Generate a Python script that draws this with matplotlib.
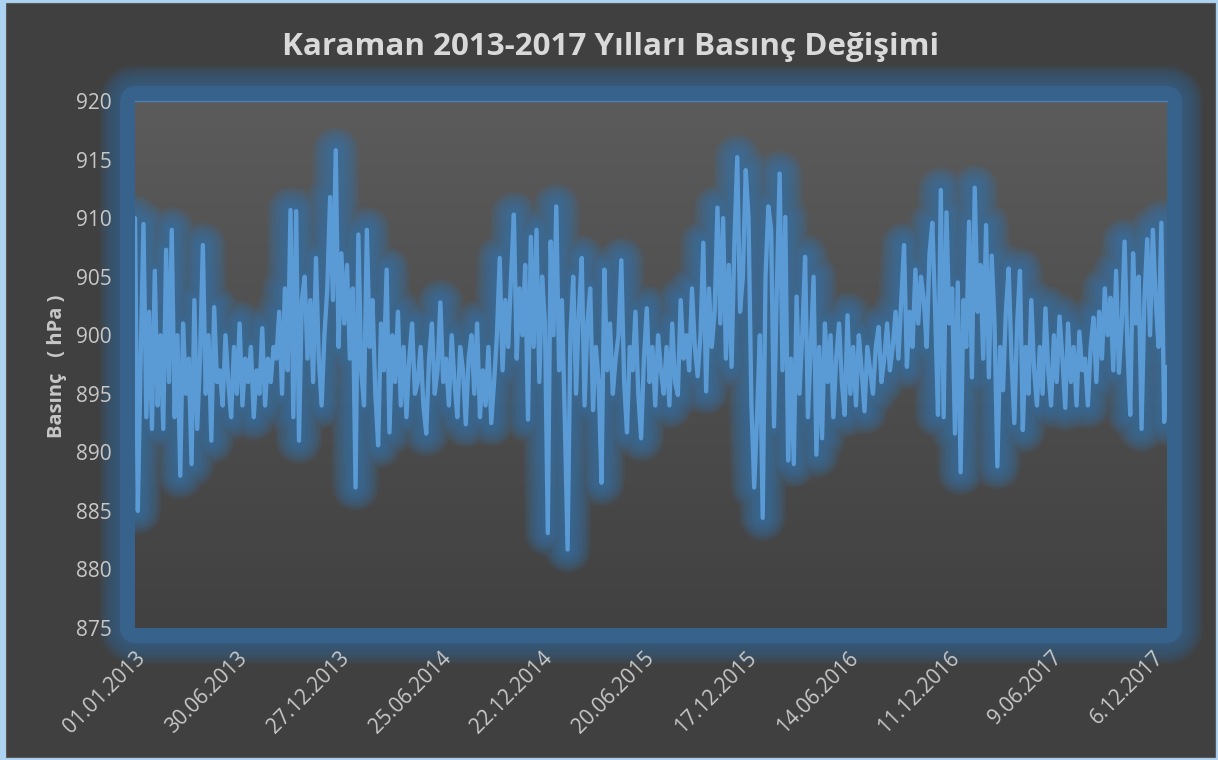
import numpy as np
import pandas as pd
import matplotlib
matplotlib.use("Agg")
import matplotlib.pyplot as plt
from matplotlib.patches import Rectangle
from matplotlib.colors import LinearSegmentedColormap
import matplotlib.dates as mdates

# ---------------- data (5-day samples) ----------------
start_date = "2013-01-01"
step_days = 5
pressure = [
    910, 885, 898, 909.5, 893, 902, 892, 905.5, 894, 900,
    892, 907.3, 896, 909, 893, 900, 888, 901, 895, 898,
    889, 903, 892, 898, 907.7, 895, 900, 891, 902.4, 896,
    897, 894, 900, 896, 893, 899, 895, 901, 894, 898,
    896, 899, 893, 897, 895, 900.6, 894, 898, 896, 899,
    898, 902, 895, 904, 897, 910.7, 893, 910.6, 891, 903,
    905, 898, 903, 896, 906.6, 898, 894, 900, 904, 911.8,
    903, 915.8, 899, 907, 901, 906, 898, 904, 887, 908.6,
    897, 894, 909, 899, 903, 895, 890.6, 901, 897, 905.6,
    891.7, 900, 896, 902, 894, 899, 893, 898, 901, 895,
    896, 899, 894, 891.6, 898, 901, 895, 897, 902.8, 896,
    898, 894, 900, 896, 893, 899, 897, 892.4, 898, 900,
    895, 901, 893, 897, 894, 899, 892.5, 896, 900, 906.6,
    897, 903, 899, 905, 910.3, 898, 904, 900, 906, 892.8,
    908.4, 899, 909, 896, 905, 901, 883.1, 908, 900, 911,
    897, 903, 893, 881.7, 900, 905, 895, 902, 906.6, 894,
    901, 904, 893.6, 899, 896, 887.4, 905.6, 897, 901, 895,
    898, 900, 906.4, 896, 891.7, 899, 897, 902, 895, 891.2,
    898, 902.3, 896, 899, 894, 900, 897, 895, 899, 894,
    901, 896, 894.9, 903, 898, 900, 897, 904, 899, 896.5,
    900, 907.9, 895.2, 904, 899, 902, 910.9, 901, 910, 898,
    906, 897.3, 908, 915.2, 902, 905, 914.1, 910, 894.2, 887,
    893, 900, 884.4, 905, 911, 909, 892.2, 904, 913.8, 897,
    910.1, 889.3, 898, 889, 903.3, 895, 900, 906.7, 893, 899,
    905, 889.8, 899, 891.2, 901, 896, 900, 893, 898, 901,
    896, 893.2, 901.7, 895, 899, 894, 900, 897, 893.5, 899,
    897, 895, 899, 900.7, 896, 898, 901, 897, 899, 902,
    898, 903, 907.7, 897.3, 902, 899, 905.6, 901, 905, 903,
    899, 907, 909.6, 902, 893.2, 912.4, 893, 910.5, 901, 904,
    891.6, 904.5, 888.3, 903, 899, 909.7, 896.4, 912.6, 902, 906,
    898, 909.4, 896.4, 906.8, 901, 888.8, 899, 895.3, 902, 905.7,
    898, 892.5, 901, 905.5, 891.9, 899, 895, 903, 897, 894,
    899, 895, 902.3, 897, 894, 900, 896, 901.6, 898, 893.8,
    901, 896, 899, 894, 900.3, 897, 898, 894, 899, 901.5,
    896, 902, 898, 904, 900, 903.2, 897, 905.5, 896.8, 901,
    908, 899, 893.2, 907, 901, 905, 892, 903, 908.2, 900,
    909, 903, 899, 909.6, 892.6, 897.3,
]
dates = pd.date_range(start_date, periods=len(pressure), freq=f"{step_days}D")

x_tick_dates = ["2013-01-01", "2013-06-30", "2013-12-27", "2014-06-25", "2014-12-22",
                "2015-06-20", "2015-12-17", "2016-06-14", "2016-12-11", "2017-06-09",
                "2017-12-06"]
x_tick_labels = ["01.01.2013", "30.06.2013", "27.12.2013", "25.06.2014", "22.12.2014",
                 "20.06.2015", "17.12.2015", "14.06.2016", "11.12.2016", "9.06.2017",
                 "6.12.2017"]
y_ticks = [875, 880, 885, 890, 895, 900, 905, 910, 915, 920]

title = "Karaman 2013-2017 Yılları Basınç Değişimi"
ylabel = "Basınç   ( hPa )"

# ---------------- style ----------------
plt.rcParams['font.family'] = ['Open Sans', 'DejaVu Sans']
W, H, DPI = 1218, 760, 100
PT = 72 / DPI
fig = plt.figure(figsize=(W / DPI, H / DPI), dpi=DPI)
fig.patch.set_facecolor('#aed3f2')

# inner dark panel
fig.patches.append(Rectangle((6 / W, 3 / H), (W - 9) / W, (H - 6) / H,
                             transform=fig.transFigure, facecolor='#404040',
                             edgecolor='#5a5a5a', linewidth=0.8, zorder=-10))

ax_l, ax_r, ax_t, ax_b = 135, 1167, 101, 628
ax = fig.add_axes([ax_l / W, 1 - ax_b / H, (ax_r - ax_l) / W, (ax_b - ax_t) / H])

# glow around plot area
glow_frame = '#36628b'
rect_args = dict(xy=(ax_l / W, 1 - ax_b / H), width=(ax_r - ax_l) / W,
                 height=(ax_b - ax_t) / H, transform=fig.transFigure,
                 facecolor='none')
for k in range(14, 0, -1):
    lw_px = 30 + 3.0 * k
    fig.patches.append(Rectangle(edgecolor=glow_frame, linewidth=lw_px * PT,
                                 alpha=0.10, zorder=-6, joinstyle='round', **rect_args))
fig.patches.append(Rectangle(edgecolor=glow_frame, linewidth=30 * PT,
                             alpha=1.0, zorder=-5, joinstyle='round', **rect_args))

# gradient plot background
xn0 = mdates.date2num(pd.Timestamp("2013-01-01"))
xn1 = mdates.date2num(pd.Timestamp("2017-12-31"))
grad = np.linspace(0, 1, 256).reshape(-1, 1)
cmap = LinearSegmentedColormap.from_list('bg', ['#5b5b5b', '#414141'])
ax.imshow(grad, extent=[xn0, xn1, 875, 920], aspect='auto', cmap=cmap,
          origin='upper', zorder=0, interpolation='bilinear')

# line glow
glow_line = '#3673aa'
for lw_px in [46, 41, 36, 31, 26, 21, 16, 11]:
    ax.plot(dates, pressure, color=glow_line, lw=lw_px * PT, alpha=0.15,
            solid_joinstyle='round', solid_capstyle='round', zorder=2)
ax.plot(dates, pressure, color='#5b9bd5', lw=3.1, solid_joinstyle='round',
        solid_capstyle='round', zorder=3)

ax.set_xlim(xn0, xn1)
ax.set_ylim(875, 920)
ax.set_yticks(y_ticks)
ax.set_yticklabels([str(v) for v in y_ticks])
ax.set_xticks([mdates.date2num(pd.Timestamp(d)) for d in x_tick_dates])
ax.set_xticklabels(x_tick_labels, rotation=45, ha='right', rotation_mode='anchor')
ax.tick_params(axis='both', length=0, colors='#c8c8c8', labelsize=15)
ax.tick_params(axis='y', pad=16.5)
ax.tick_params(axis='x', pad=14)
for s in ax.spines.values():
    s.set_visible(False)
ax.plot([0, 1], [1, 1], transform=ax.transAxes, color='#4f7fae', lw=1, zorder=4,
        clip_on=False)

fig.text(611 / W, 1 - 47 / H, title, ha='center', va='center', fontsize=22.6,
         fontweight='bold', color='#d9d9d9')
fig.text(57 / W, 1 - 366 / H, ylabel, ha='center', va='center', rotation=90,
         fontsize=14.5, fontweight='bold', color='#c8c8c8')

fig.savefig('out.png', dpi=DPI, facecolor=fig.get_facecolor())
